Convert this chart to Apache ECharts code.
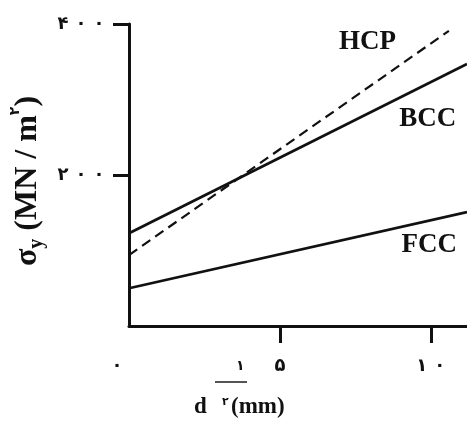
<!DOCTYPE html>
<html>
<head>
<meta charset="utf-8">
<script src="https://cdn.jsdelivr.net/npm/echarts@6/dist/echarts.min.js"></script>
<style>html,body{margin:0;padding:0;background:#fff}#c{width:467px;height:421px}</style>
</head>
<body>
<div id="c"></div>
<script>
// Data
const seriesNames = ['HCP', 'BCC', 'FCC'];
const hcpValues = [[0, 94], [10.6, 391]];
const bccValues = [[0, 123], [11.2, 347]];
const fccValues = [[0, 50], [11.2, 151]];
const xTicks = [0, 5, 10];
const yTicks = [200, 400];

const faDigits = '۰۱۲۳۴۵۶۷۸۹';
function toFa(n) { return String(n).replace(/\d/g, d => faDigits[d]); }
// spaced digits via rich tokens (same text, wider spacing like the original)
function spaced(n) { return toFa(n).split('').map(c => '{d|' + c + '}').join(''); }

const serif = '"Liberation Serif", "DejaVu Serif", serif';
const sans = '"DejaVu Sans", sans-serif';
const ink = '#111';

// label anchors (data space)
const labelAnchors = { HCP: [7.9, 376], BCC: [9.9, 274], FCC: [9.95, 107] };

function mkSeries(name, data, dashed) {
  return {
    name, type: 'line', data, symbol: 'none', silent: true,
    lineStyle: { color: ink, width: dashed ? 2.2 : 2.8, type: dashed ? [10, 6] : 'solid' },
    markPoint: {
      symbol: 'circle', symbolSize: 1, itemStyle: { color: 'rgba(0,0,0,0)' },
      label: { show: true, position: 'inside', formatter: '{b}', fontFamily: serif, fontWeight: 'bold', fontSize: 27, color: ink },
      data: [{ name, coord: labelAnchors[name] }]
    }
  };
}

const digitRich = { d: { fontFamily: sans, fontWeight: 'bold', fontSize: 18, color: ink, padding: [0, 3.5, 0, 3.5] } };

const chart = echarts.init(document.getElementById('c'), null, { renderer: 'canvas' });
chart.setOption({
  animation: false,
  backgroundColor: '#fff',
  grid: { left: 129, right: 0, top: 24, bottom: 95 },
  xAxis: {
    type: 'value', min: 0, max: 11.2, interval: 5,
    axisLine: { show: true, lineStyle: { color: ink, width: 3 } },
    axisTick: { show: true, customValues: [5, 10], length: 17, lineStyle: { color: ink, width: 3 } },
    axisLabel: {
      customValues: xTicks, margin: 31, color: ink,
      formatter: v => v === 0 ? '{z|' + toFa(v) + '}' : spaced(v),
      rich: Object.assign({ z: { padding: [0, 24, 0, 0], fontFamily: sans, fontWeight: 'bold', fontSize: 18, color: ink } }, digitRich)
    },
    splitLine: { show: false }
  },
  yAxis: {
    type: 'value', min: 0, max: 400, interval: 200,
    axisLine: { show: true, lineStyle: { color: ink, width: 3 } },
    axisTick: { show: true, customValues: yTicks, length: 16, lineStyle: { color: ink, width: 3 } },
    axisLabel: {
      customValues: yTicks, margin: 21, color: ink,
      formatter: v => spaced(v), rich: digitRich
    },
    splitLine: { show: false },
    name: '{n|σ}{sub|y}{n| (MN / m}{sup|۲}{n|)}',
    nameLocation: 'middle', nameRotate: 90, nameGap: 52,
    nameTextStyle: {
      padding: [0, 12, 0, 0],
      rich: {
        n: { fontFamily: serif, fontWeight: 'bold', fontSize: 32, color: ink, lineHeight: 38 },
        sub: { fontFamily: serif, fontWeight: 'bold', fontSize: 20, color: ink, verticalAlign: 'bottom', lineHeight: 38 },
        sup: { fontFamily: sans, fontWeight: 'bold', fontSize: 14, color: ink, verticalAlign: 'top', lineHeight: 38 }
      }
    }
  },
  graphic: [
    { type: 'text', left: 194, top: 396, style: { text: 'd', font: 'bold 23px ' + serif, fill: ink } },
    { type: 'text', left: 222, top: 397, style: { text: '۲', font: 'bold 11px ' + sans, fill: ink } },
    { type: 'text', left: 231, top: 396, style: { text: '(mm)', font: 'bold 23px ' + serif, fill: ink } },
    { type: 'text', left: 236, top: 359, style: { text: '۱', font: 'bold 14px ' + sans, fill: ink } },
    { type: 'line', shape: { x1: 215, y1: 382, x2: 247, y2: 382 }, style: { stroke: '#555', lineWidth: 2 } }
  ],
  series: [
    mkSeries('HCP', hcpValues, true),
    mkSeries('BCC', bccValues, false),
    mkSeries('FCC', fccValues, false)
  ]
});
</script>
</body>
</html>
